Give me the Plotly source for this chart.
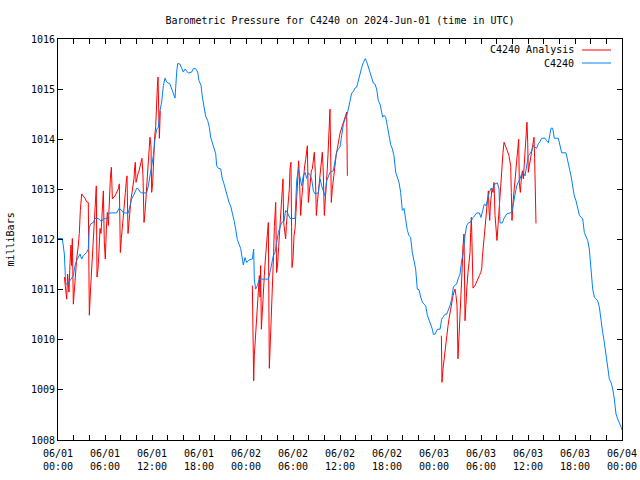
import pandas as pd
import plotly.graph_objects as go

# ---- data (hours since 2024-06-01 00:00 UTC, pressure in mb) ----
blue_h = [
    0.00, 0.55, 0.81, 0.98, 1.32, 1.53, 1.96, 2.17, 2.38, 2.60,
    2.81, 3.02, 3.23, 3.45, 3.66, 3.87, 4.00, 4.17, 4.51, 4.72,
    5.15, 5.36, 5.57, 5.79, 6.21, 6.43, 6.64, 7.49, 7.79, 8.13,
    8.34, 8.98, 9.19, 9.40, 9.62, 9.83, 10.04, 10.26, 10.47, 10.68,
    11.32, 11.53, 11.74, 11.96, 12.17, 12.38, 12.60, 12.81, 13.02, 13.23,
    13.45, 13.66, 13.87, 14.30, 14.51, 14.72, 14.94, 15.15, 15.28, 15.57,
    15.79, 16.00, 16.21, 16.43, 16.64, 17.06, 17.28, 17.57, 17.83, 18.00,
    18.26, 18.43, 18.64, 18.85, 19.11, 19.32, 19.49, 19.70, 19.91, 20.13,
    20.26, 20.47, 20.77, 20.98, 21.19, 21.40, 21.62, 21.83, 22.04, 22.26,
    22.47, 22.68, 22.89, 23.11, 23.32, 23.45, 23.66, 23.87, 24.09, 24.30,
    24.51, 24.81, 24.98, 25.06,
    25.23, 25.45, 25.66, 25.79, 26.85, 27.06, 27.28, 27.49, 27.70, 27.91,
    28.13, 28.34, 28.55, 28.85, 29.06, 29.28, 29.62, 30.26, 30.47, 30.68,
    30.89, 31.11, 31.32, 31.53, 31.74, 31.96, 32.17, 32.38, 32.60, 32.81,
    33.23, 33.45, 33.66, 33.87, 34.09, 34.30, 34.51, 34.72, 35.15, 35.36,
    35.57, 35.79, 36.00, 36.21, 36.43, 36.64, 36.85, 37.06, 37.28, 37.49,
    37.70, 37.91, 38.13, 38.34, 38.55, 38.77, 38.98, 39.23, 39.40, 39.62,
    39.83, 40.04, 40.26, 40.47, 40.68, 40.89, 41.11, 41.32, 41.45, 41.62,
    41.83, 42.04, 42.26, 42.47, 42.68, 42.89, 43.11, 43.32, 43.53, 43.74,
    43.96, 44.17, 44.38, 44.60, 44.81, 45.02, 45.23, 45.45, 45.66, 45.87,
    46.09, 46.30, 46.51, 46.72, 46.94, 47.15, 47.36, 47.57, 47.79, 47.91,
    48.13,
    48.43, 48.77, 48.98, 49.40, 49.62, 49.83, 50.04, 50.26, 50.47, 50.68,
    50.89, 51.11, 51.32, 51.53, 51.74, 51.96, 52.17, 52.38, 52.60, 53.02,
    53.23, 53.45, 53.79, 54.00, 54.21, 54.43, 54.64, 54.85, 55.06, 55.28,
    55.49, 55.79, 56.09, 56.30, 56.43, 56.72, 56.94, 57.28, 57.70, 57.91,
    58.13, 58.34, 58.55, 58.77, 58.98, 59.19, 59.40, 59.62, 59.83, 60.04,
    60.26, 60.47, 60.68, 60.89, 61.11, 61.32, 61.53, 61.74, 62.17, 62.38,
    62.60, 62.81, 62.94, 63.15, 63.36, 63.87, 64.09, 64.30, 64.85, 65.06,
    65.28, 65.49, 65.70, 65.91, 66.13, 66.34, 66.55, 66.77, 66.98, 67.19,
    67.40, 67.62, 67.83, 68.04, 68.26, 68.47, 68.68, 68.89, 69.11, 69.32,
    69.53, 69.74, 69.96, 70.17, 70.38, 70.60, 70.81, 71.02, 71.23, 71.45,
    71.66, 71.91, 72.00,
]
blue_p = [
    1012.02, 1012.02, 1011.71, 1011.11, 1011.11, 1011.18, 1011.28, 1011.48, 1011.58, 1011.64,
    1011.71, 1011.61, 1011.68, 1011.71, 1011.74, 1011.81, 1012.24, 1012.31, 1012.34, 1012.42,
    1012.42, 1012.38, 1012.36, 1012.41, 1012.42, 1012.51, 1012.53, 1012.53, 1012.62, 1012.58,
    1012.53, 1012.53, 1012.67, 1012.81, 1012.87, 1012.94, 1013.02, 1013.01, 1012.95, 1012.93,
    1012.93, 1013.07, 1013.27, 1013.47, 1013.67, 1014.00, 1014.20, 1014.24, 1014.57, 1014.74,
    1015.07, 1015.22, 1015.14, 1015.10, 1015.00, 1014.90, 1014.82, 1015.34, 1015.51, 1015.50,
    1015.40, 1015.34, 1015.40, 1015.35, 1015.32, 1015.34, 1015.41, 1015.41, 1015.34, 1015.17,
    1015.07, 1014.84, 1014.60, 1014.46, 1014.37, 1014.24, 1014.04, 1013.94, 1013.84, 1013.71,
    1013.47, 1013.42, 1013.41, 1013.21, 1013.11, 1012.97, 1012.87, 1012.74, 1012.67, 1012.54,
    1012.38, 1012.21, 1012.00, 1011.91, 1011.82, 1011.69, 1011.49, 1011.64, 1011.54, 1011.58,
    1011.60, 1011.61, 1011.81, 1011.21,
    1011.01, 1011.08, 1011.20, 1011.21, 1011.21, 1011.34, 1011.51, 1011.68, 1011.74, 1011.94,
    1012.14, 1012.24, 1012.34, 1012.36, 1012.58, 1012.54, 1012.42, 1012.42, 1013.17, 1013.41,
    1013.21, 1013.07, 1013.27, 1013.34, 1013.22, 1013.33, 1013.29, 1013.21, 1012.97, 1012.91,
    1012.93, 1013.21, 1013.07, 1012.97, 1012.87, 1013.17, 1013.27, 1013.34, 1013.37, 1013.57,
    1013.74, 1013.81, 1013.84, 1014.07, 1014.30, 1014.40, 1014.47, 1014.60, 1014.80, 1014.92,
    1014.95, 1015.02, 1015.04, 1015.17, 1015.34, 1015.43, 1015.53, 1015.61, 1015.55, 1015.45,
    1015.35, 1015.24, 1015.12, 1015.10, 1015.00, 1014.77, 1014.70, 1014.54, 1014.44, 1014.48,
    1014.44, 1014.27, 1014.07, 1013.89, 1013.81, 1013.67, 1013.34, 1013.24, 1013.14, 1012.94,
    1012.58, 1012.62, 1012.38, 1012.18, 1012.08, 1012.04, 1011.74, 1011.54, 1011.41, 1011.01,
    1011.00, 1010.85, 1010.75, 1010.71, 1010.68, 1010.49, 1010.41, 1010.31, 1010.21, 1010.11,
    1010.11,
    1010.21, 1010.21, 1010.41, 1010.51, 1010.51, 1010.58, 1010.68, 1010.81, 1011.05, 1011.09,
    1011.11, 1011.23, 1011.31, 1011.58, 1011.74, 1012.08, 1012.28, 1012.33, 1012.34, 1012.44,
    1012.48, 1012.53, 1012.53, 1012.44, 1012.58, 1012.71, 1012.67, 1012.84, 1012.94, 1013.02,
    1013.01, 1013.11, 1013.13, 1013.01, 1012.33, 1012.33, 1012.42, 1012.51, 1012.53, 1012.54,
    1012.71, 1012.91, 1013.07, 1013.15, 1013.21, 1013.31, 1013.34, 1013.27, 1013.44, 1013.67,
    1013.71, 1013.77, 1013.87, 1013.84, 1013.82, 1013.91, 1013.95, 1014.02, 1014.02, 1013.97,
    1013.93, 1014.11, 1014.22, 1014.22, 1014.02, 1014.02, 1013.86, 1013.73, 1013.73, 1013.57,
    1013.47, 1013.27, 1013.07, 1012.87, 1012.77, 1012.61, 1012.49, 1012.44, 1012.42, 1012.14,
    1012.04, 1011.98, 1011.81, 1011.41, 1011.01, 1010.85, 1010.81, 1010.78, 1010.65, 1010.35,
    1010.15, 1009.95, 1009.72, 1009.45, 1009.22, 1009.15, 1009.02, 1008.82, 1008.52, 1008.42,
    1008.35, 1008.25, 1008.20,
]

red1_h = [
    0.81, 0.98, 1.11, 1.23, 1.40, 1.53, 1.66, 1.74, 1.83, 1.96,
    2.09, 2.26, 2.38, 2.60, 2.72, 2.85, 3.02, 3.45, 3.66, 3.87,
    4.00, 4.17, 4.30, 4.43, 4.55, 4.64, 4.77, 4.89, 4.98, 5.11,
    5.23, 5.36, 5.49, 5.66, 5.79, 5.91, 6.04, 6.17, 6.30, 6.43,
    6.55, 6.68, 6.81, 6.94, 7.28, 7.70, 7.83, 7.96, 8.09, 8.21,
    8.34, 8.47, 8.60, 8.72, 8.81, 8.94, 9.06, 9.19, 9.32, 9.45,
    9.57, 9.70, 9.79, 9.87, 9.96, 10.09, 10.21, 10.34, 10.47, 10.60,
    10.72, 10.85, 10.98, 11.11, 11.23, 11.36, 11.49, 11.62, 11.74, 11.87,
    11.96, 12.09, 12.21, 12.34, 12.47, 12.55, 12.68, 12.77, 12.85, 12.94,
    13.06,
]
red1_p = [
    1011.25, 1010.91, 1010.81, 1011.31, 1010.95, 1011.51, 1011.89, 1011.48, 1012.02, 1010.71,
    1011.05, 1011.41, 1011.61, 1011.89, 1012.12, 1012.58, 1012.91, 1012.82, 1012.75, 1012.74,
    1010.49, 1011.05, 1011.41, 1011.81, 1012.12, 1012.49, 1012.87, 1013.07, 1011.25, 1011.41,
    1011.76, 1012.22, 1012.12, 1012.81, 1012.97, 1011.95, 1011.61, 1012.21, 1012.54, 1012.28,
    1012.97, 1013.21, 1013.44, 1012.81, 1012.87, 1013.01, 1013.11, 1011.74, 1012.02, 1012.28,
    1012.49, 1012.74, 1012.94, 1013.17, 1013.27, 1012.12, 1012.41, 1012.61, 1012.81, 1012.94,
    1013.04, 1013.21, 1013.44, 1013.54, 1013.14, 1013.27, 1013.31, 1013.37, 1013.47, 1013.54,
    1013.62, 1013.27, 1012.34, 1012.54, 1012.87, 1013.21, 1013.41, 1013.74, 1014.04, 1013.87,
    1012.94, 1013.14, 1013.67, 1014.05, 1014.25, 1014.67, 1015.04, 1015.24, 1014.60, 1014.02,
    1014.57,
]

red2_h = [
    24.81, 24.89, 24.98, 25.06, 25.19, 25.32, 25.45, 25.57, 25.70, 25.79,
    25.87, 25.96, 26.09, 26.21, 26.34, 26.47, 26.60, 26.72, 26.85, 26.98,
    27.06, 27.15, 27.28, 27.40, 27.53, 27.62, 27.70, 27.79, 27.91, 28.04,
    28.17, 28.30, 28.43, 28.55, 28.64, 28.72, 28.81, 28.94, 29.06, 29.15,
    29.28, 29.40, 29.53, 29.62, 29.74, 29.87, 30.00, 30.13, 30.26, 30.38,
    30.51, 30.60, 30.72, 30.85, 30.98, 31.11, 31.23, 31.36, 31.49, 31.62,
    31.70, 31.83, 31.96, 32.09, 32.21, 32.34, 32.47, 32.60, 32.72, 32.85,
    32.98, 33.11, 33.23, 33.36, 33.49, 33.62, 33.74, 33.87, 34.00, 34.13,
    34.26, 34.38, 34.47, 34.55, 34.64, 34.72, 34.81, 34.89, 35.02, 35.15,
    35.28, 35.40, 35.53, 35.66, 35.79, 35.91, 36.04, 36.17, 36.30, 36.43,
    36.55, 36.68, 36.77, 36.85, 36.94,
]
red2_p = [
    1011.08, 1010.15, 1009.18, 1009.68, 1009.98, 1010.28, 1010.68, 1011.01, 1011.28, 1010.85,
    1011.48, 1010.21, 1010.68, 1010.95, 1011.28, 1011.61, 1011.86, 1012.19, 1012.34, 1009.43,
    1009.73, 1010.28, 1010.81, 1011.34, 1011.74, 1012.26, 1012.48, 1012.74, 1011.34, 1011.51,
    1011.86, 1012.19, 1012.48, 1012.74, 1013.07, 1013.21, 1012.34, 1012.21, 1012.01, 1012.28,
    1012.54, 1012.74, 1013.01, 1013.41, 1013.54, 1011.44, 1011.61, 1012.08, 1012.21, 1012.54,
    1013.07, 1013.37, 1013.57, 1013.07, 1012.48, 1012.81, 1013.07, 1013.27, 1013.47, 1013.60,
    1013.77, 1013.87, 1012.74, 1012.94, 1013.21, 1013.37, 1013.41, 1013.60, 1013.74, 1013.34,
    1012.48, 1012.74, 1012.94, 1013.21, 1013.41, 1013.60, 1013.74, 1013.34, 1012.48, 1012.81,
    1013.07, 1013.41, 1013.71, 1014.07, 1014.44, 1014.60, 1013.74, 1012.74, 1013.01, 1013.21,
    1013.41, 1013.60, 1013.71, 1013.81, 1014.00, 1014.04, 1014.14, 1014.20, 1014.27, 1014.34,
    1014.40, 1014.47, 1014.50, 1014.54, 1013.27,
]

red3_h = [
    48.94, 49.02, 49.15, 49.28, 49.40, 49.53, 49.66, 49.79, 49.91, 50.04,
    50.17, 50.30, 50.43, 50.55, 50.68, 50.81, 50.94, 51.06, 51.19, 51.32,
    51.45, 51.57, 51.70, 51.83, 51.96, 52.09, 52.21, 52.34, 52.47, 52.60,
    52.68, 52.77, 52.85, 52.98, 53.23, 53.53, 53.79, 53.96, 54.09, 54.17,
    54.30, 54.43, 54.55, 54.68, 54.81, 54.94, 55.02, 55.11, 55.19, 55.28,
    55.40, 55.53, 55.66, 55.79, 55.91, 56.04, 56.17, 56.30, 56.43, 56.55,
    56.68, 56.81, 56.94, 57.15, 57.36, 57.57, 57.79, 57.87, 57.96, 58.09,
    58.21, 58.34, 58.47, 58.60, 58.72, 58.81, 58.89, 59.02, 59.15, 59.28,
    59.40, 59.53, 59.66, 59.79, 59.87, 59.96, 60.04, 60.17, 60.30, 60.43,
    60.55, 60.68, 60.77, 60.85, 60.94, 61.02,
]
red3_p = [
    1010.08, 1009.15, 1009.42, 1009.62, 1009.78, 1009.95, 1010.15, 1010.28, 1010.41, 1010.55,
    1010.68, 1010.81, 1010.88, 1010.95, 1011.01, 1010.88, 1010.68, 1009.62, 1010.02, 1010.35,
    1010.81, 1011.34, 1011.86, 1012.11, 1010.38, 1010.88, 1011.08, 1011.34, 1011.61, 1011.74,
    1012.14, 1012.44, 1011.94, 1011.03, 1011.08, 1011.21, 1011.28, 1011.34, 1011.41, 1011.64,
    1011.86, 1012.14, 1012.28, 1012.54, 1012.84, 1012.97, 1012.61, 1012.38, 1012.67, 1012.87,
    1013.01, 1012.94, 1013.14, 1012.48, 1012.28, 1011.98, 1012.28, 1012.61, 1012.94, 1013.21,
    1013.47, 1013.74, 1013.94, 1013.87, 1013.77, 1013.67, 1013.47, 1012.94, 1012.38, 1012.74,
    1013.01, 1013.21, 1013.41, 1013.64, 1013.87, 1014.00, 1013.14, 1012.94, 1013.21, 1013.37,
    1013.21, 1013.51, 1013.81, 1014.00, 1014.34, 1013.94, 1013.34, 1013.47, 1013.61, 1013.71,
    1013.81, 1013.94, 1014.04, 1013.61, 1012.77, 1012.32,
]

tick_hours = [0, 6, 12, 18, 24, 30, 36, 42, 48, 54, 60, 66, 72]
tick_dates = ["06/01", "06/01", "06/01", "06/01", "06/02", "06/02", "06/02",
              "06/02", "06/03", "06/03", "06/03", "06/03", "06/04"]
tick_times = ["00:00", "06:00", "12:00", "18:00", "00:00", "06:00", "12:00",
              "18:00", "00:00", "06:00", "12:00", "18:00", "00:00"]
y_ticks = [1008, 1009, 1010, 1011, 1012, 1013, 1014, 1015, 1016]

title = "Barometric Pressure for C4240 on 2024-Jun-01 (time in UTC)"
name_red = "C4240 Analysis"
name_blue = "C4240"

# ---- build ----
base = pd.Timestamp("2024-06-01 00:00")


def to_time(hours):
    return [None if h is None else base + pd.Timedelta(hours=h) for h in hours]


red_h = red1_h + [None] + red2_h + [None] + red3_h
red_p = red1_p + [None] + red2_p + [None] + red3_p

FONT = "DejaVu Sans Mono"
RED = "#ff0000"
BLUE = "#0080ff"

fig = go.Figure()
fig.add_trace(go.Scatter(x=to_time(red_h), y=red_p, mode="lines", name=name_red,
                         line=dict(color=RED, width=1), connectgaps=False))
fig.add_trace(go.Scatter(x=to_time(blue_h), y=blue_p, mode="lines", name=name_blue,
                         line=dict(color=BLUE, width=1)))

W, H = 640, 480
ml, mr, mt, mb = 58, 18, 39, 40
pw, ph = W - ml - mr, H - mt - mb


def px(x):
    return (x - ml) / pw


def py(y):
    return (H - mb - y) / ph


fig.update_layout(
    width=W, height=H, autosize=False,
    margin=dict(l=ml, r=mr, t=mt, b=mb, pad=0, autoexpand=False),
    paper_bgcolor="white", plot_bgcolor="white",
    font=dict(family=FONT, size=10, color="black"),
    showlegend=False,
    title=dict(text=title, x=0.5, xref="paper", y=1 - 20 / H, yref="container",
               yanchor="middle", xanchor="center", automargin=False,
               font=dict(family=FONT, size=10)),
)

fig.update_xaxes(
    type="date", automargin=False,
    range=[base, base + pd.Timedelta(hours=72)],
    tickvals=to_time(tick_hours),
    ticktext=[d + "<br>" + t for d, t in zip(tick_dates, tick_times)],
    ticks="inside", ticklen=5, tickcolor="black", tickwidth=1,
    ticklabelstandoff=4,
    minor=dict(dtick=2 * 3600 * 1000, tick0=base, ticks="inside", ticklen=5,
               tickcolor="black", tickwidth=1, showgrid=False),
    showline=True, linecolor="black", linewidth=1, mirror="allticks",
    showgrid=False, zeroline=False,
    tickfont=dict(family=FONT, size=10),
)
fig.update_yaxes(
    range=[1008, 1016], automargin=False,
    tickvals=y_ticks,
    ticks="inside", ticklen=5, tickcolor="black", tickwidth=1,
    showline=True, linecolor="black", linewidth=1, mirror="allticks",
    showgrid=False, zeroline=False,
    tickfont=dict(family=FONT, size=10),
)

# y-axis label
fig.add_annotation(text="milliBars", xref="paper", yref="paper",
                   x=px(10), y=0.5, textangle=-90, showarrow=False,
                   xanchor="center", yanchor="middle",
                   font=dict(family=FONT, size=10))

# gnuplot-style legend (text right-aligned, sample line on the right)
for i, (nm, col) in enumerate([(name_red, RED), (name_blue, BLUE)]):
    yy = py(50 + 13 * i)
    fig.add_annotation(text=nm, xref="paper", yref="paper", x=px(576), y=yy,
                       xanchor="right", yanchor="middle", showarrow=False,
                       font=dict(family=FONT, size=10))
    fig.add_shape(type="line", xref="paper", yref="paper",
                  x0=px(582), x1=px(611), y0=yy, y1=yy,
                  line=dict(color=col, width=1))

fig.write_html("out.html",
               config={"displayModeBar": False},
               post_script="document.body.style.margin='0';"
                           "document.body.style.overflow='hidden';")
